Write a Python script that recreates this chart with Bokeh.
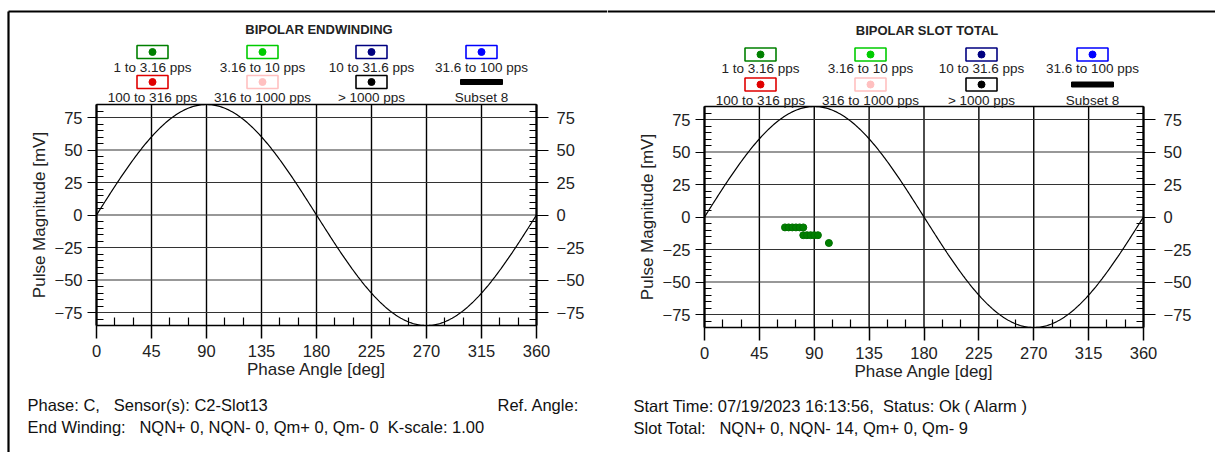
import numpy as np
from bokeh.plotting import figure
from bokeh.layouts import row
from bokeh.models import Range1d, LinearAxis, FixedTicker, Label
from bokeh.core.properties import value
from bokeh.embed import file_html
from bokeh.resources import INLINE

FONT = "Liberation Sans"
NB = "\u00a0"

# ---------------- data ----------------
x_ticks = [0, 45, 90, 135, 180, 225, 270, 315, 360]
x_minor = [15, 30, 60, 75, 105, 120, 150, 165, 195, 210, 240, 255, 285, 300, 330, 345]
y_ticks = [-75, -50, -25, 0, 25, 50, 75]
y_minor = [-85, -80, -70, -65, -60, -55, -45, -40, -35, -30, -20, -15, -10, -5,
           5, 10, 15, 20, 30, 35, 40, 45, 55, 60, 65, 70, 80, 85]
y_lim = [-85, 85]
x_lim = [0, 360]

legend_labels = ["1 to 3.16 pps", "3.16 to 10 pps", "10 to 31.6 pps", "31.6 to 100 pps",
                 "100 to 316 pps", "316 to 1000 pps", "> 1000 pps", "Subset 8"]
legend_colors = ["#008000", "#00cc00", "#000080", "#0000ff",
                 "#e00000", "#ffc0c0", "#000000", "#000000"]

sine_amplitude = 85  # reference AC waveform amplitude [mV]

slot_phase = [66, 69, 72, 75, 78, 81, 81, 84, 87, 90, 93, 102]
slot_mag = [-8, -8, -8, -8, -8, -8, -14, -14, -14, -14, -14, -20]

end_phase = []
end_mag = []


def panel(W, x0px, x360px, ytop, ybot, title, title_px, cols_px, box_py, lab_py,
          phase, mag, lines, extra=None):
    H = 452
    sx = (x360px - x0px) / 360.0
    sy = (ybot - ytop) / 170.0
    fx = lambda px: (px - x0px) / sx
    fy = lambda py: 85 - (py - ytop) / sy
    p = figure(width=W, height=H, output_backend="svg", toolbar_location=None,
               x_axis_location=None, y_axis_location=None, min_border=0,
               x_range=Range1d(fx(0), fx(W)), y_range=Range1d(fy(H), fy(0)))
    p.outline_line_color = None
    p.xgrid.visible = False
    p.ygrid.visible = False
    p.background_fill_color = "white"

    # grid lines
    p.segment(x0=x_ticks, y0=[y_lim[0]] * len(x_ticks), x1=x_ticks, y1=[y_lim[1]] * len(x_ticks),
              line_color="black", line_width=1.4)
    p.segment(x0=[x_lim[0]] * len(y_ticks), y0=y_ticks, x1=[x_lim[1]] * len(y_ticks), y1=y_ticks,
              line_color="#333333", line_width=1.2)
    # top frame line
    p.segment(x0=[x_lim[0]], y0=[y_lim[1]], x1=[x_lim[1]], y1=[y_lim[1]], line_color="black", line_width=1.5)

    common = dict(major_label_text_font=FONT, major_label_text_font_size="16.5px",
                  major_label_text_color="#222222",
                  axis_label_text_font=FONT, axis_label_text_font_size="17px",
                  axis_label_text_font_style="normal", axis_label_text_color="#222222",
                  axis_line_color="black", major_tick_line_color="black", minor_tick_line_color="black")
    xa = LinearAxis(fixed_location=y_lim[0], bounds=(x_lim[0], x_lim[1]),
                    ticker=FixedTicker(ticks=x_ticks, minor_ticks=x_minor),
                    axis_label="Phase Angle [deg]", axis_label_standoff=0, major_label_standoff=6,
                    major_tick_in=0, major_tick_out=13, minor_tick_in=8, minor_tick_out=0,
                    axis_line_width=1.5, major_tick_line_width=1.5, minor_tick_line_width=1.2, **common)
    p.add_layout(xa, "below")
    ya = LinearAxis(fixed_location=x_lim[0], bounds=(y_lim[0], y_lim[1]),
                    ticker=FixedTicker(ticks=y_ticks, minor_ticks=y_minor),
                    axis_label="Pulse Magnitude [mV]", axis_label_standoff=3, major_label_standoff=5,
                    major_tick_in=0, major_tick_out=9, minor_tick_in=7, minor_tick_out=0,
                    axis_line_width=2.2, major_tick_line_width=1.2, minor_tick_line_width=1.2, **common)
    p.add_layout(ya, "left")
    ya2 = LinearAxis(fixed_location=x_lim[1], bounds=(y_lim[0], y_lim[1]),
                     ticker=FixedTicker(ticks=y_ticks, minor_ticks=y_minor),
                     major_label_standoff=8,
                     major_tick_in=0, major_tick_out=12, minor_tick_in=7, minor_tick_out=0,
                     axis_line_width=2.2, major_tick_line_width=1.2, minor_tick_line_width=1.2, **common)
    p.add_layout(ya2, "right")

    # reference sine
    xs = np.linspace(0, 360, 361)
    p.line(xs, sine_amplitude * np.sin(np.radians(xs)), line_color="black", line_width=1.2)

    # data points
    if len(phase):
        p.scatter(phase, mag, size=7, fill_color="#008000", line_color="#007000")

    # title
    p.add_layout(Label(x=fx(title_px[0]), y=fy(title_px[1]), text=title, text_font=FONT,
                       text_font_size="13px", text_font_style="bold", text_color="#222222",
                       text_align="center", text_baseline="middle"))

    # legend
    bx, by, lx, ly, bc = [], [], [], [], []
    for i, lab in enumerate(legend_labels):
        r, c = divmod(i, 4)
        lx.append(fx(cols_px[c]))
        ly.append(fy(lab_py[r]))
        if lab != "Subset 8":
            bx.append(fx(cols_px[c]))
            by.append(fy(box_py[r]))
            bc.append(legend_colors[i])
        else:
            p.rect(x=[fx(cols_px[c])], y=[fy(box_py[r])], width=42, height=5,
                   width_units="screen", height_units="screen",
                   fill_color="black", line_color="black")
    p.rect(x=bx, y=by, width=31, height=13, width_units="screen", height_units="screen",
           fill_color="white", line_color=bc, line_width=1.6)
    p.scatter(x=bx, y=by, size=7, fill_color=bc, line_color=bc)
    p.text(x=lx, y=ly, text=legend_labels, text_font=value(FONT), text_font_size="13.5px",
           text_align="center", text_baseline="middle", text_color="#222222")

    # bottom info text
    for (tx, ty, t) in lines:
        p.add_layout(Label(x=fx(tx), y=fy(ty), text=t, text_font=FONT, text_font_size="16.5px",
                           text_color="#111111", text_align="left", text_baseline="middle"))

    # outer border pieces
    if extra == "left":
        p.segment(x0=[fx(8), fx(8)], y0=[fy(11), fy(11)], x1=[fx(8), fx(W)], y1=[fy(H), fy(11)],
                  line_color="black", line_width=2.2)
    else:
        p.segment(x0=[fx(0)], y0=[fy(11)], x1=[fx(W)], y1=[fy(11)], line_color="black", line_width=2.2)
    return p


left = panel(607, 96, 536, 104, 325, "BIPOLAR ENDWINDING", (318.5, 29),
             [152, 262, 371, 481], [51.5, 81.5], [67, 97], end_phase, end_mag,
             [(27, 404, "Phase: C," + NB + NB + " Sensor(s): C2-Slot13"),
              (497, 404, "Ref. Angle:"),
              (27, 426, "End Winding:" + NB + NB + " NQN+ 0, NQN- 0, Qm+ 0, Qm- 0" + NB + " K-scale: 1.00")],
             extra="left")
right = panel(608, 97, 536, 106, 327, "BIPOLAR SLOT TOTAL", (319.5, 30),
              [153, 263, 374, 485], [54, 84], [68, 100], slot_phase, slot_mag,
              [(26, 405, "Start Time: 07/19/2023 16:13:56," + NB + " Status: Ok ( Alarm )"),
               (26, 427, "Slot Total:" + NB + NB + " NQN+ 0, NQN- 14, Qm+ 0, Qm- 9")])

layout = row(left, right, spacing=0)
open("out.html", "w").write(file_html(layout, INLINE))
